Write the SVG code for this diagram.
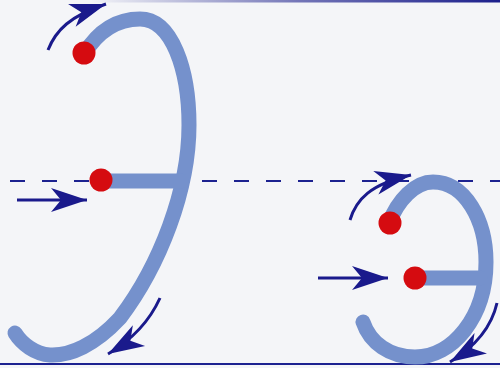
<svg xmlns="http://www.w3.org/2000/svg" width="500" height="368" viewBox="0 0 500 368">
<defs>
<linearGradient id="topg" x1="0" y1="0" x2="1" y2="0">
<stop offset="0.18" stop-color="#1c1f8c" stop-opacity="0"/>
<stop offset="0.6" stop-color="#1c1f8c" stop-opacity="0.6"/>
<stop offset="1" stop-color="#1c1f8c" stop-opacity="1"/>
</linearGradient>
<marker id="dart" markerUnits="userSpaceOnUse" markerWidth="40" markerHeight="26" viewBox="-38 -13 40 26" refX="0" refY="0" orient="auto" overflow="visible">
<path d="M0,0 L-36,-12 L-26,0 L-36,12 Z" fill="#1a1a8c"/>
</marker>
</defs>
<style>
.stroke{fill:none;stroke:#7591cc;stroke-width:15;stroke-linecap:round;stroke-linejoin:round}
.dot{fill:#d50b10}
.arr{fill:none;stroke:#1a1a8c;stroke-width:3;marker-end:url(#dart)}
.guide{stroke:#1c2290;stroke-width:2.2;fill:none}
</style>
<rect width="500" height="368" fill="#f4f5f8"/>
<rect x="0" y="0" width="500" height="2.5" fill="url(#topg)"/>
<line class="guide" x1="0" y1="364" x2="500" y2="364" stroke-width="2.5"/>
<line class="guide" x1="10" y1="181" x2="500" y2="181" stroke-dasharray="15 17"/>
<g id="big-letter">
<path class="stroke" d="M84,54 C100,28 120,19 140,19 C172,19 189,70 189,125 C189,190 160,265 120,318 C95,345 70,356 50,355 C35,354 22,344 15,333"/>
<path class="stroke" d="M101,181 H181" stroke-linecap="butt"/>
<circle class="dot" cx="84" cy="53" r="11.5"/>
<circle class="dot" cx="101" cy="180" r="11.5"/>
</g>
<g id="small-letter">
<path class="stroke" d="M389,223 C398,200 415,182 433,182 C465,182 486,220 486,262 C486,318 452,357 415,357 C390,357 370,343 363,322"/>
<path class="stroke" d="M415,278 H480" stroke-linecap="butt"/>
<circle class="dot" cx="390" cy="223" r="11.5"/>
<circle class="dot" cx="415" cy="278" r="11.5"/>
</g>
<g id="connectors">
<path class="arr" d="M48,50 C56,30 70,16 106,4"/>
<path class="arr" d="M17,200 H87"/>
<path class="arr" d="M160,298 C150,320 135,338 108,354"/>
<path class="arr" d="M350,220 C356,200 370,184 411,175"/>
<path class="arr" d="M318,278 H388"/>
<path class="arr" d="M497,303 C492,325 478,345 450,362"/>
</g>
</svg>
